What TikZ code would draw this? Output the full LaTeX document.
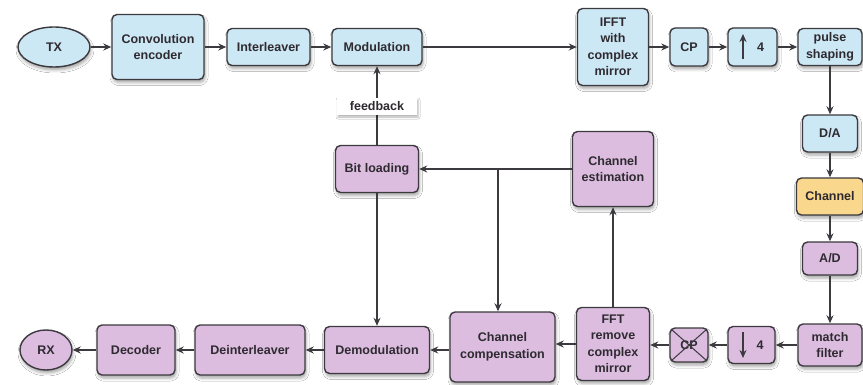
\documentclass[tikz,border=0pt]{standalone}
\usepackage{fontspec}
\setmainfont{Liberation Sans}
\usetikzlibrary{arrows.meta,shapes.geometric,shadows.blur}

\definecolor{txblue}{HTML}{CDE8F5}
\definecolor{rxpurple}{HTML}{DCBDE0}
\definecolor{chorange}{HTML}{F9D78C}
\definecolor{edge}{HTML}{3C3A3E}
\definecolor{ink}{HTML}{2E2A30}

\newcommand{\blkfont}{\fontsize{12.5}{16.5}\selectfont\bfseries}

\tikzset{
  blk/.style={draw=edge, line width=1.4pt, rounded corners=5pt, align=center,
    inner sep=0pt, font=\blkfont, text=ink,
    blur shadow={shadow xshift=1pt, shadow yshift=-3pt, shadow blur radius=3pt, shadow opacity=35}},
  txb/.style={blk, fill=txblue},
  rxb/.style={blk, fill=rxpurple},
  chb/.style={blk, fill=chorange},
  term/.style={blk, ellipse, sharp corners},
  tag/.style={fill=white, inner sep=0pt, font=\blkfont, text=ink,
    blur shadow={shadow xshift=1pt, shadow yshift=-2pt, shadow blur radius=2pt, shadow opacity=30}},
  glyph/.style={font=\blkfont, text=ink},
  link/.style={draw=edge, line width=1.3pt, -{Stealth[length=8pt,width=7pt]}},
  thin/.style={draw=edge, line width=1pt},
}

\begin{document}
\begin{tikzpicture}[x=1pt, y=-1pt]
  \fill[white] (0,0) rectangle (863,385);
  \useasboundingbox (0,0) rectangle (863,385);

  % transmitter chain
  \node[term, fill=txblue, minimum width=72pt, minimum height=40pt] (tx) at (54,47) {TX};
  \node[txb, minimum width=92pt, minimum height=65pt] (conv) at (158,47) {Convolution\\encoder};
  \node[txb, minimum width=83pt, minimum height=37pt] (inter) at (268.5,47) {Interleaver};
  \node[txb, minimum width=90pt, minimum height=37pt] (mod) at (377,47) {Modulation};
  \node[txb, minimum width=71pt, minimum height=77pt] (ifft) at (613,47) {IFFT\\with\\complex\\mirror};
  \node[txb, minimum width=38pt, minimum height=38pt] (cp) at (689,47) {CP};
  \node[txb, minimum width=49pt, minimum height=38pt] (up4) at (752.5,47) {};
  \node[txb, minimum width=64pt, minimum height=37pt] (pulse) at (830,47) {pulse\\shaping};

  % analog path
  \node[txb, minimum width=55pt, minimum height=37pt] (da) at (830,133.5) {D/A};
  \node[chb, minimum width=67pt, minimum height=37pt] (chan) at (830,196.5) {Channel};
  \node[rxb, minimum width=55pt, minimum height=33pt] (ad) at (830,258.5) {A/D};

  % receiver chain
  \node[rxb, minimum width=64pt, minimum height=42pt] (match) at (830,345) {match\\filter};
  \node[rxb, minimum width=47pt, minimum height=37pt] (down4) at (751.5,345) {};
  \node[rxb, minimum width=38pt, minimum height=34pt] (cpx) at (689,345) {CP};
  \node[rxb, minimum width=73pt, minimum height=73pt] (fft) at (613,344) {FFT\\remove\\complex\\mirror};
  \node[rxb, minimum width=105pt, minimum height=70pt] (comp) at (502.5,347) {Channel\\compensation};
  \node[rxb, minimum width=105pt, minimum height=47pt] (demod) at (377,350) {Demodulation};
  \node[rxb, minimum width=110pt, minimum height=50pt] (deint) at (250,350) {Deinterleaver};
  \node[rxb, minimum width=78pt, minimum height=50pt] (dec) at (136,350) {Decoder};
  \node[term, fill=rxpurple, minimum width=52pt, minimum height=40pt] (rx) at (46,350) {RX};

  % adaptive loop
  \node[rxb, minimum width=83pt, minimum height=47pt] (bit) at (377,169) {Bit loading};
  \node[rxb, minimum width=81pt, minimum height=75pt] (est) at (613,169) {Channel\\estimation};

  % rate change symbols and the crossed-out prefix
  \draw[link] ([xshift=-9.5pt,yshift=-12pt]up4.center) -- ([xshift=-9.5pt,yshift=13pt]up4.center);
  \node[glyph] (up4n) at ([xshift=8pt]up4.center) {4};
  \draw[link] ([xshift=-8.5pt,yshift=13pt]down4.center) -- ([xshift=-8.5pt,yshift=-13pt]down4.center);
  \node[glyph] (down4n) at ([xshift=8.5pt]down4.center) {4};
  \draw[thin] ([shift={(2pt,-2pt)}]cpx.north west) -- ([shift={(-2pt,2pt)}]cpx.south east);
  \draw[thin] ([shift={(2pt,2pt)}]cpx.south west) -- ([shift={(-2pt,-2pt)}]cpx.north east);

  % transmitter connections
  \draw[link] (tx) -- (conv);
  \draw[link] (conv) -- (inter);
  \draw[link] (inter) -- (mod);
  \draw[link] (mod) -- (ifft);
  \draw[link] (ifft) -- (cp);
  \draw[link] (cp) -- (up4);
  \draw[link] (up4) -- (pulse);
  \draw[link] (pulse) -- (da);
  \draw[link] (da) -- (chan);
  \draw[link] (chan) -- (ad);
  \draw[link] (ad) -- (match);

  % receiver connections
  \draw[link] (match) -- (down4);
  \draw[link] (down4) -- (cpx);
  \draw[link] (cpx.west) -- (cpx.west -| fft.east);
  \draw[link] (fft.west) -- (fft.west -| comp.east);
  \draw[link] (comp.west |- demod) -- (demod.east);
  \draw[link] (demod) -- (deint);
  \draw[link] (deint) -- (dec);
  \draw[link] (dec) -- (rx);

  % feedback loop
  \draw[link] (fft) -- (est);
  \draw[link] (est) -- (bit);
  \coordinate (j) at (498,169);
  \draw[link] (j) -- (j |- comp.north);
  \draw[link] (bit) -- (demod);
  \draw[link] (bit) -- (mod);
  \node[tag, minimum width=80pt, minimum height=17pt] (fb) at (377,106.5) {feedback};
\end{tikzpicture}
\end{document}
